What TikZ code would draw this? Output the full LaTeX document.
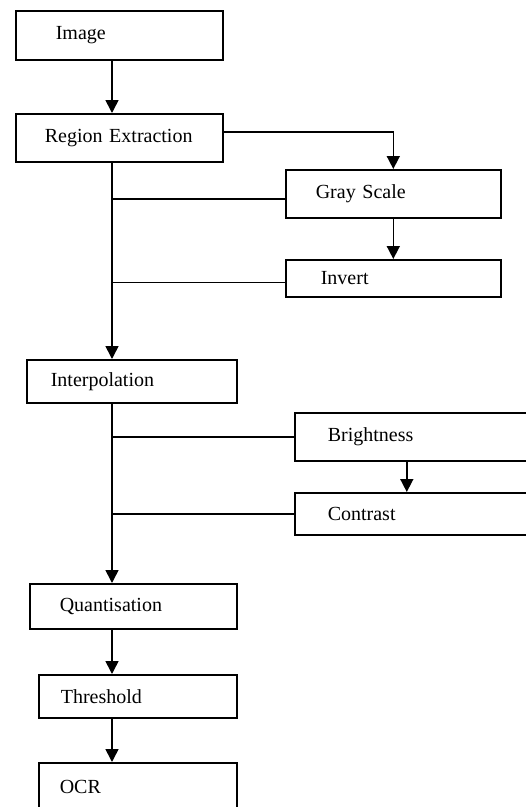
\documentclass[tikz,border=0pt]{standalone}
\usepackage{fontspec}
\setmainfont{Liberation Serif}
\usetikzlibrary{arrows.meta}
\tikzset{
  stagebox/.style = {draw,line width=1.6pt,anchor=north west,align=left,
                     inner xsep=0pt,inner ysep=0pt,font=\fontsize{20}{24}\selectfont},
  flowarr/.style  = {-{Triangle[length=13pt,width=13pt]},line width=1.6pt},
  tapline/.style  = {line width=1.4pt}
}
\newcommand{\stage}[6]{%
  \node[stagebox,text width=#3pt,minimum height=#4pt] (#1) at (#2) {\hspace*{#5pt}#6};
}

\begin{document}
\begin{tikzpicture}[x=1pt,y=-1pt]
  \useasboundingbox (0,0) rectangle (526,807);
  \clip (0,0) rectangle (526,807);
  \coordinate (trunk) at (112,0);
  \stage{img}{15,10}{207}{49}{40}{Image}
  \stage{reg}{15,113}{207}{48}{29}{Region Extraction}
  \stage{gray}{285,169}{215}{48}{30}{Gray Scale}
  \stage{inv}{285,259}{215}{37}{35}{Invert}
  \stage{interp}{26,359}{210}{43}{24}{Interpolation}
  \stage{bright}{294,412}{240}{48}{33}{Brightness}
  \stage{contr}{294,492}{240}{42}{33}{Contrast}
  \stage{quant}{29,583}{207}{45}{30}{Quantisation}
  \stage{thresh}{38,674}{198}{43}{22}{Threshold}
  \stage{ocr}{38,762}{198}{48}{21}{OCR}
  \draw[flowarr] (img.south -| trunk) -- (reg.north -| trunk);
  \draw[flowarr] ([yshift=6pt]reg.east) -| (gray.north);
  \draw[flowarr] (reg.south -| trunk) -- (interp.north -| trunk);
  \draw[tapline] ([yshift=-5pt]gray.west) -- ([yshift=-5pt]trunk |- gray.west);
  \draw[flowarr] (gray.south) -- (inv.north);
  \draw[tapline] ([yshift=-4pt]inv.west) -- ([yshift=-4pt]trunk |- inv.west);
  \draw[flowarr] (interp.south -| trunk) -- (quant.north -| trunk);
  \draw[tapline] (bright.west) -- (trunk |- bright.west);
  \draw[flowarr] ([xshift=-8pt]bright.south) -- ([xshift=-8pt]contr.north);
  \draw[tapline] (contr.west) -- (trunk |- contr.west);
  \draw[flowarr] (quant.south -| trunk) -- (thresh.north -| trunk);
  \draw[flowarr] (thresh.south -| trunk) -- (ocr.north -| trunk);
\end{tikzpicture}
\end{document}
